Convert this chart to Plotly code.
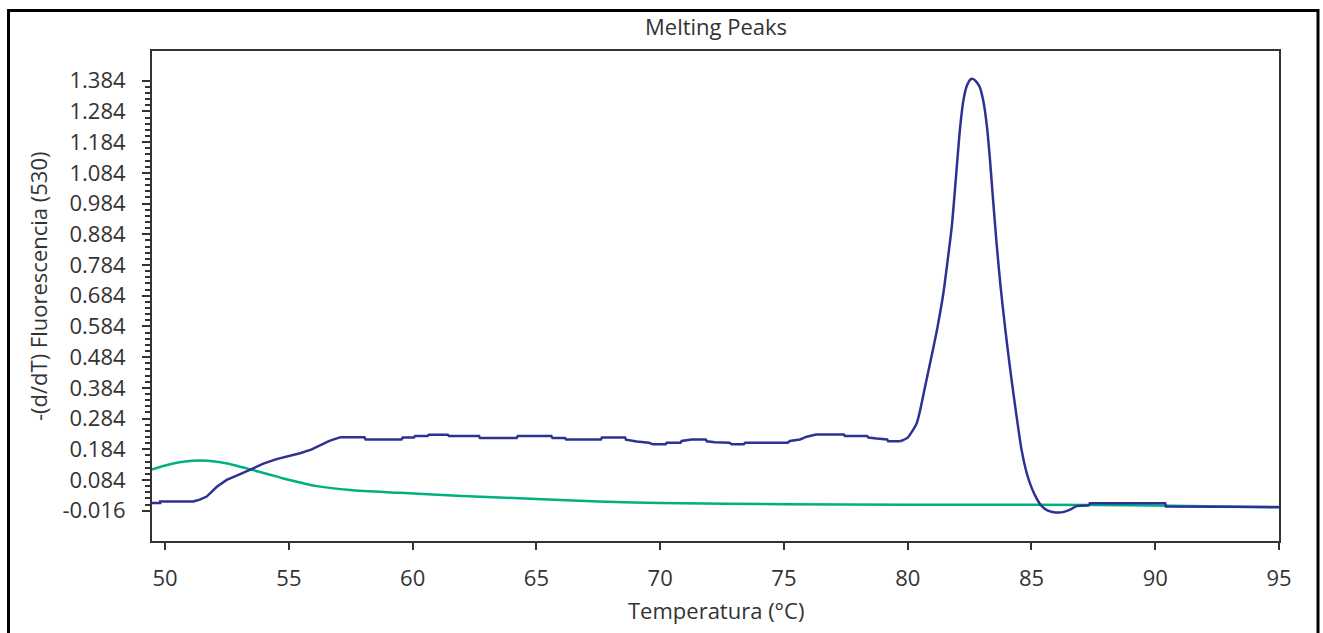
import numpy as np
import plotly.graph_objects as go

# ---------------- data ----------------
blue_temp = [49.47, 49.80, 49.80, 51.14, 51.40, 51.68, 52.09, 52.49, 53.03, 53.50,
             53.97, 54.50, 55.00, 55.45, 55.90, 56.30, 56.66, 57.00, 57.10, 58.05,
             58.10, 59.55, 59.60, 60.05, 60.10, 60.60, 60.65, 61.42, 61.47, 62.68,
             62.72, 64.20, 64.25, 65.60, 65.65, 66.15, 66.20, 67.60, 67.65, 68.58,
             68.62, 69.05, 69.55, 69.70, 70.22, 70.26, 70.82, 70.87, 71.27, 71.84,
             71.88, 72.21, 72.80, 72.89, 73.38, 73.43, 75.15, 75.24, 75.65, 75.92,
             76.30, 77.42, 77.46, 78.36, 78.41, 78.74, 79.17, 79.21, 79.70,
             80.00, 80.16, 80.36, 80.50, 80.63, 80.80, 81.03, 81.20, 81.44, 81.60,
             81.78, 81.95, 82.11, 82.25, 82.40, 82.55, 82.62, 82.75, 82.90, 83.05,
             83.20, 83.32, 83.45, 83.59, 83.75, 83.93, 84.10, 84.27, 84.45, 84.60,
             84.81, 85.00, 85.20, 85.40, 85.62, 85.85, 86.09, 86.35, 86.60, 86.82,
             87.33, 87.36, 90.40, 90.43, 95.00]
blue_value = [0.009, 0.009, 0.014, 0.014, 0.020, 0.030, 0.062, 0.084, 0.103, 0.120,
              0.137, 0.152, 0.162, 0.171, 0.183, 0.198, 0.212, 0.221, 0.223, 0.223,
              0.216, 0.216, 0.222, 0.222, 0.227, 0.227, 0.231, 0.231, 0.227, 0.227,
              0.221, 0.221, 0.227, 0.227, 0.221, 0.221, 0.216, 0.216, 0.222, 0.222,
              0.215, 0.209, 0.205, 0.200, 0.200, 0.205, 0.205, 0.211, 0.216, 0.216,
              0.210, 0.207, 0.205, 0.200, 0.200, 0.205, 0.205, 0.211, 0.216, 0.225,
              0.232, 0.232, 0.227, 0.227, 0.222, 0.219, 0.216, 0.210, 0.210,
              0.222, 0.240, 0.268, 0.310, 0.360, 0.425, 0.512, 0.580, 0.692, 0.790,
              0.909, 1.070, 1.225, 1.320, 1.370, 1.389, 1.390, 1.383, 1.365, 1.320,
              1.235, 1.130, 0.995, 0.855, 0.715, 0.583, 0.470, 0.366, 0.262, 0.182,
              0.106, 0.060, 0.025, 0.000, -0.014, -0.020, -0.022, -0.019, -0.011, -0.001,
              0.001, 0.008, 0.008, -0.002, -0.004]

green_temp = [49.47, 50.20, 50.80, 51.41, 52.09, 52.76, 53.56, 54.20, 54.78, 55.50,
              56.13, 57.47, 59.49, 62.00, 65.00, 67.50, 70.00, 75.00, 80.00, 85.00,
              90.00, 95.00]
green_value = [0.118, 0.135, 0.144, 0.147, 0.143, 0.133, 0.116, 0.102, 0.089, 0.075,
               0.064, 0.051, 0.042, 0.032, 0.022, 0.014, 0.009, 0.005, 0.003, 0.003,
               0.001, -0.005]

x_ticks = [50, 55, 60, 65, 70, 75, 80, 85, 90, 95]
y_ticks = [-0.016, 0.084, 0.184, 0.284, 0.384, 0.484, 0.584, 0.684, 0.784,
           0.884, 0.984, 1.084, 1.184, 1.284, 1.384]
y_tick_labels = ["-0.016", "0.084", "0.184", "0.284", "0.384", "0.484", "0.584",
                 "0.684", "0.784", "0.884", "0.984", "1.084", "1.184", "1.284", "1.384"]

title_text = "Melting Peaks"
x_title = "Temperatura (°C)"
y_title = "-(d/dT) Fluorescencia (530)"

# ---------------- figure ----------------
FONT = "Open Sans"
FS = 22
TXT = "#333333"
BLUE = "#2E3192"
GREEN = "#00B080"
W, H = 1323, 633
L, R, T, B = 152, 44, 51, 92
pw, ph = W - L - R, H - T - B

# split the blue series into its stepped plateau, the smooth melting peak and the tail
i_peak0 = blue_temp.index(79.70)
i_peak1 = blue_temp.index(87.33)

fig = go.Figure()
fig.add_trace(go.Scatter(x=green_temp, y=green_value, mode="lines",
                         line=dict(color=GREEN, width=2.5, shape="spline", smoothing=0.8),
                         hoverinfo="x+y"))
fig.add_trace(go.Scatter(x=blue_temp[:i_peak0 + 1], y=blue_value[:i_peak0 + 1], mode="lines",
                         line=dict(color=BLUE, width=2.5), hoverinfo="x+y"))
fig.add_trace(go.Scatter(x=blue_temp[i_peak0:i_peak1 + 1], y=blue_value[i_peak0:i_peak1 + 1],
                         mode="lines",
                         line=dict(color=BLUE, width=2.5, shape="spline", smoothing=0.7),
                         hoverinfo="x+y"))
fig.add_trace(go.Scatter(x=blue_temp[i_peak1:], y=blue_value[i_peak1:], mode="lines",
                         line=dict(color=BLUE, width=2.5), hoverinfo="x+y"))

minor_vals = list(np.round(np.arange(y_ticks[0], y_ticks[-1] + 1e-9, 0.02), 3))

fig.update_xaxes(range=[49.47, 95.0], tickvals=x_ticks, ticks="outside", ticklen=7,
                 tickwidth=2, tickcolor="#333", showline=True, linewidth=2,
                 linecolor="#333", mirror=True, showgrid=False, zeroline=False,
                 tickfont=dict(family=FONT, size=FS, color=TXT), ticklabelstandoff=10)
fig.update_yaxes(range=[-0.1147, 1.4807], tickvals=y_ticks, ticktext=y_tick_labels,
                 ticks="outside", ticklen=8, tickwidth=2, tickcolor="#333",
                 minor=dict(tickvals=minor_vals, ticks="outside", ticklen=5,
                            tickwidth=1.5, tickcolor="#333", showgrid=False),
                 showline=True, linewidth=2, linecolor="#333", mirror=True,
                 showgrid=False, zeroline=False,
                 tickfont=dict(family=FONT, size=FS, color=TXT), ticklabelstandoff=12)


def px_x(p):
    return (p - L) / pw


def px_y(p):
    return (H - B - p) / ph


fig.add_annotation(text=title_text, xref="paper", yref="paper", x=0.5, y=px_y(26),
                   xanchor="center", yanchor="middle", showarrow=False,
                   font=dict(family=FONT, size=FS, color=TXT))
fig.add_annotation(text=x_title, xref="paper", yref="paper", x=0.5, y=px_y(610),
                   xanchor="center", yanchor="middle", showarrow=False,
                   font=dict(family=FONT, size=FS, color=TXT))
fig.add_annotation(text=y_title, xref="paper", yref="paper", x=px_x(38), y=px_y(287),
                   xanchor="center", yanchor="middle", showarrow=False, textangle=-90,
                   font=dict(family=FONT, size=FS, color=TXT))

# outer frame
fig.add_shape(type="rect", xref="paper", yref="paper",
              x0=px_x(8.5), x1=px_x(1318), y0=px_y(660), y1=px_y(10.5),
              line=dict(color="#000", width=3), layer="below")

fig.update_layout(width=W, height=H, margin=dict(l=L, r=R, t=T, b=B),
                  plot_bgcolor="white", paper_bgcolor="white", showlegend=False)

fig.write_html("out.html")
